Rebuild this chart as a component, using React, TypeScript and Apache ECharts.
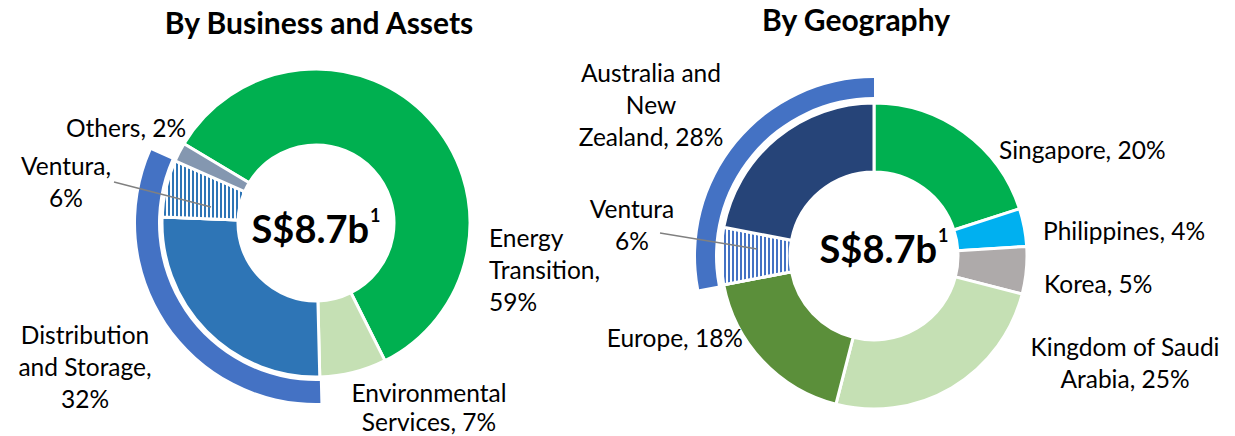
import React, { useEffect, useRef } from "react";
import * as echarts from "echarts";

// ---- Data ----
const businessNames = ["Energy Transition", "Environmental Services", "Distribution and Storage", "Ventura", "Others"];
const businessValues = [59, 7, 26, 6, 2]; // Distribution shown as 32% incl. Ventura 6%
const distributionTotal = 32;

const geoNames = ["Singapore", "Philippines", "Korea", "Kingdom of Saudi Arabia", "Europe", "Ventura", "Australia and New Zealand"];
const geoValues = [20, 4, 5, 25, 18, 6, 22]; // ANZ shown as 28% incl. Ventura 6%
const anzTotal = 28;

const totalText = "S$8.7b";
const titles = ["By Business and Assets", "By Geography"];

// ---- Styles ----
const businessColors = ["#00B050", "#C5E0B4", "#2E75B6", "#FFFFFF", "#8497B0"];
const geoColors = ["#00B050", "#00B0F0", "#AEAAAA", "#C5E0B4", "#5B8F3A", "#FFFFFF", "#264478"];
const arcColor = "#4472C4";
const FONT = "Lato";

export default function App() {
  const ref = useRef<HTMLDivElement>(null);
  useEffect(() => {
    document.body.style.margin = "0";
    const chart = echarts.init(ref.current!, null, { renderer: "svg" });

    const hatch = (c: string) => ({
      symbol: "rect",
      symbolSize: 1,
      color: c,
      backgroundColor: "#FFFFFF",
      dashArrayX: [2, 2],
      dashArrayY: [6, 0],
      rotation: 0,
    });

    const inner = (names: string[], values: number[], colors: string[], hatchIdx: number, hatchColor: string) =>
      names.map((n, i) => ({
        name: n,
        value: values[i],
        itemStyle: i === hatchIdx ? { color: "#FFFFFF", decal: hatch(hatchColor) } : { color: colors[i] },
      }));

    const b = businessValues;
    const g = geoValues;
    const pct = (v: number) => `${v}%`;

    const labelBase = { fill: "#000", fontSize: 24.5, fontFamily: FONT, lineHeight: 32, verticalAlign: "middle" };
    const labels: any[] = [
      { x: 66, y: 127, align: "left", text: `Others, ${pct(b[4])}` },
      { x: 66, y: 181, align: "center", text: `Ventura,\n${pct(b[3])}` },
      { x: 489, y: 269, align: "left", text: `Energy\nTransition,\n${pct(b[0])}` },
      { x: 85, y: 366, align: "center", text: `Distribution\nand Storage,\n${pct(distributionTotal)}` },
      { x: 429, y: 407, align: "center", lh: 29, text: `Environmental\nServices, ${pct(b[1])}` },
      { x: 651, y: 104, align: "center", text: `Australia and\nNew\nZealand, ${pct(anzTotal)}` },
      { x: 632, y: 224, align: "center", text: `Ventura\n${pct(g[5])}` },
      { x: 999, y: 149, align: "left", text: `Singapore, ${pct(g[0])}` },
      { x: 1043, y: 230, align: "left", text: `Philippines, ${pct(g[1])}` },
      { x: 1044, y: 283, align: "left", text: `Korea, ${pct(g[2])}` },
      { x: 1125, y: 362, align: "center", text: `Kingdom of Saudi\nArabia, ${pct(g[3])}` },
      { x: 743, y: 337, align: "right", text: `Europe, ${pct(g[4])}` },
    ];

    const centerText = (x: number, y: number) => ({
      type: "text",
      x,
      y,
      z: 10,
      style: {
        text: `{a|${totalText}}{s|1}`,
        align: "center",
        verticalAlign: "middle",
        rich: {
          a: { fontSize: 38, fontWeight: "bold", fontFamily: FONT, fill: "#000", lineHeight: 44 },
          s: { fontSize: 18, fontWeight: "bold", fontFamily: FONT, fill: "#000", lineHeight: 44, verticalAlign: "top", padding: [0, 0, 10, 1] },
        },
      },
    });

    chart.setOption({
      animation: false,
      title: [
        { text: titles[0], left: 314, top: 2, textAlign: "center", textStyle: { fontSize: 30, fontWeight: "bold", fontFamily: FONT, color: "#000" } },
        { text: titles[1], left: 851, top: -1, textAlign: "center", textStyle: { fontSize: 30, fontWeight: "bold", fontFamily: FONT, color: "#000" } },
      ],
      series: [
        {
          type: "pie",
          center: [316, 223],
          radius: [78, 154],
          startAngle: 149,
          clockwise: true,
          silent: true,
          label: { show: false },
          labelLine: { show: false },
          itemStyle: { borderColor: "#FFFFFF", borderWidth: 3 },
          data: inner(businessNames, businessValues, businessColors, 3, "#2E75B6"),
        },
        {
          type: "pie",
          center: [316, 223],
          radius: [158, 180],
          startAngle: 149,
          clockwise: true,
          silent: true,
          label: { show: false },
          labelLine: { show: false },
          data: [
            { value: b[0] + b[1], itemStyle: { color: "transparent" } },
            { value: distributionTotal, itemStyle: { color: arcColor } },
            { value: b[4], itemStyle: { color: "transparent" } },
          ],
        },
        {
          type: "pie",
          center: [874, 256],
          radius: [84, 153],
          startAngle: 90,
          clockwise: true,
          silent: true,
          label: { show: false },
          labelLine: { show: false },
          itemStyle: { borderColor: "#FFFFFF", borderWidth: 3 },
          data: inner(geoNames, geoValues, geoColors, 5, arcColor),
        },
        {
          type: "pie",
          center: [874, 256],
          radius: [159, 178],
          startAngle: 90,
          clockwise: true,
          silent: true,
          label: { show: false },
          labelLine: { show: false },
          data: [
            { value: g[0] + g[1] + g[2] + g[3] + g[4], itemStyle: { color: "transparent" } },
            { value: anzTotal, itemStyle: { color: arcColor } },
          ],
        },
      ],
      graphic: [
        ...labels.map((l) => ({
          type: "text",
          x: l.x,
          y: l.y,
          z: 10,
          style: { ...labelBase, lineHeight: l.lh || 32, align: l.align, text: l.text },
        })),
        { type: "line", z: 20, shape: { x1: 114, y1: 182, x2: 211, y2: 207 }, style: { stroke: "#808080", lineWidth: 1.3 } },
        { type: "line", z: 20, shape: { x1: 660, y1: 233, x2: 757, y2: 249 }, style: { stroke: "#808080", lineWidth: 1.3 } },
        centerText(316, 228),
        centerText(884, 248),
      ],
    });
    return () => chart.dispose();
  }, []);
  return <div ref={ref} style={{ width: 1235, height: 436 }} />;
}
